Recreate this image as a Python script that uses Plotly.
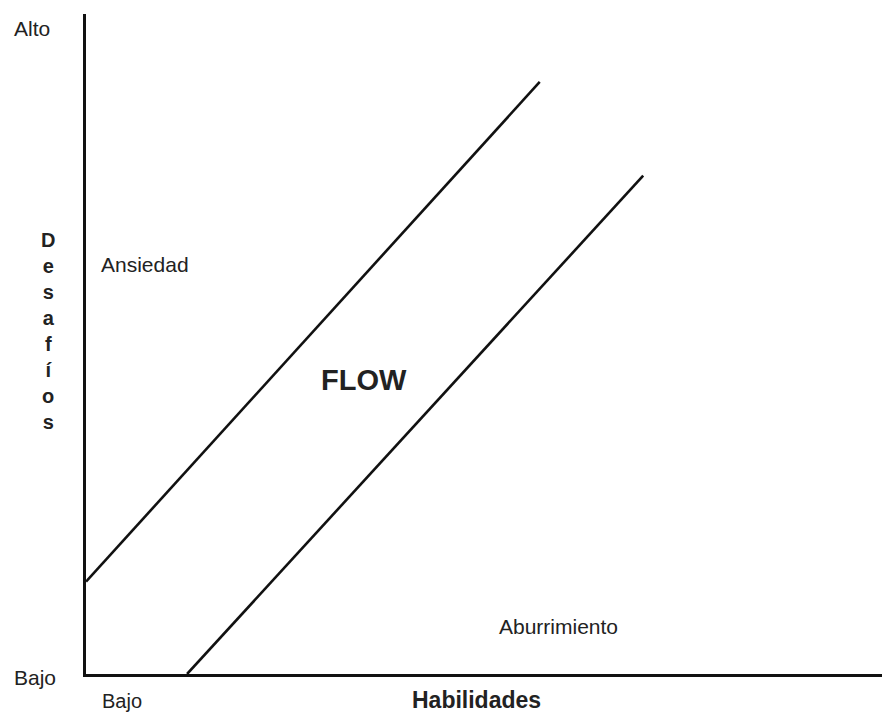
import plotly.graph_objects as go

# Data (axis units 0-100)
upper_x = [0, 57]
upper_y = [14, 89.7]
lower_x = [12.7, 70]
lower_y = [0, 75.5]

y_tick_labels = ["Bajo", "Alto"]
x_tick_label = "Bajo"
x_title = "Habilidades"
y_title = "Desafíos"
zone_labels = ["Ansiedad", "FLOW", "Aburrimiento"]

W, H = 882, 715
L, R, T, B = 86, 0, 14, 41
PW, PH = W - L - R, H - T - B

def px(x):
    return (x - L) / PW

def py(y):
    return (H - B - y) / PH

fig = go.Figure()
for xs, ys in [(upper_x, upper_y), (lower_x, lower_y)]:
    fig.add_trace(go.Scatter(x=xs, y=ys, mode="lines",
                             line=dict(color="#111111", width=2.6),
                             showlegend=False, hoverinfo="skip"))

font = "Liberation Sans, Arial, sans-serif"
col = "#222222"
ann = [
    dict(text=y_tick_labels[1], x=px(51), y=py(28), xanchor="right", font=dict(size=21)),
    dict(text=y_tick_labels[0], x=px(57), y=py(677), xanchor="right", font=dict(size=21)),
    dict(text=x_tick_label, x=px(122), y=py(701), xanchor="center", font=dict(size=20)),
    dict(text="<b>" + x_title + "</b>", x=px(476), y=py(700), xanchor="center", font=dict(size=23)),
    dict(text="<b>" + "<br>".join(list(y_title)) + "</b>", x=px(48), y=py(331), xanchor="center",
         font=dict(size=20)),
    dict(text=zone_labels[0], x=px(100), y=py(264), xanchor="left", font=dict(size=21)),
    dict(text="<b>" + zone_labels[1] + "</b>", x=px(364), y=py(380), xanchor="center", font=dict(size=29)),
    dict(text=zone_labels[2], x=px(558), y=py(626), xanchor="center", font=dict(size=21)),
]
for a in ann:
    a.update(xref="paper", yref="paper", yanchor="middle", showarrow=False, borderpad=0)
    a["font"].update(family=font, color=col)

fig.update_layout(
    width=W, height=H,
    margin=dict(l=L, r=R, t=T, b=B),
    plot_bgcolor="white", paper_bgcolor="white",
    annotations=ann,
    xaxis=dict(range=[0, 100], showgrid=False, zeroline=False, showticklabels=False,
               showline=True, linecolor="#111111", linewidth=3, ticks="", fixedrange=True),
    yaxis=dict(range=[0, 100], showgrid=False, zeroline=False, showticklabels=False,
               showline=True, linecolor="#111111", linewidth=3, ticks="", fixedrange=True),
)

fig.write_html("out.html", config={"displayModeBar": False},
               post_script="document.body.style.margin='0';document.body.style.overflow='hidden';")
